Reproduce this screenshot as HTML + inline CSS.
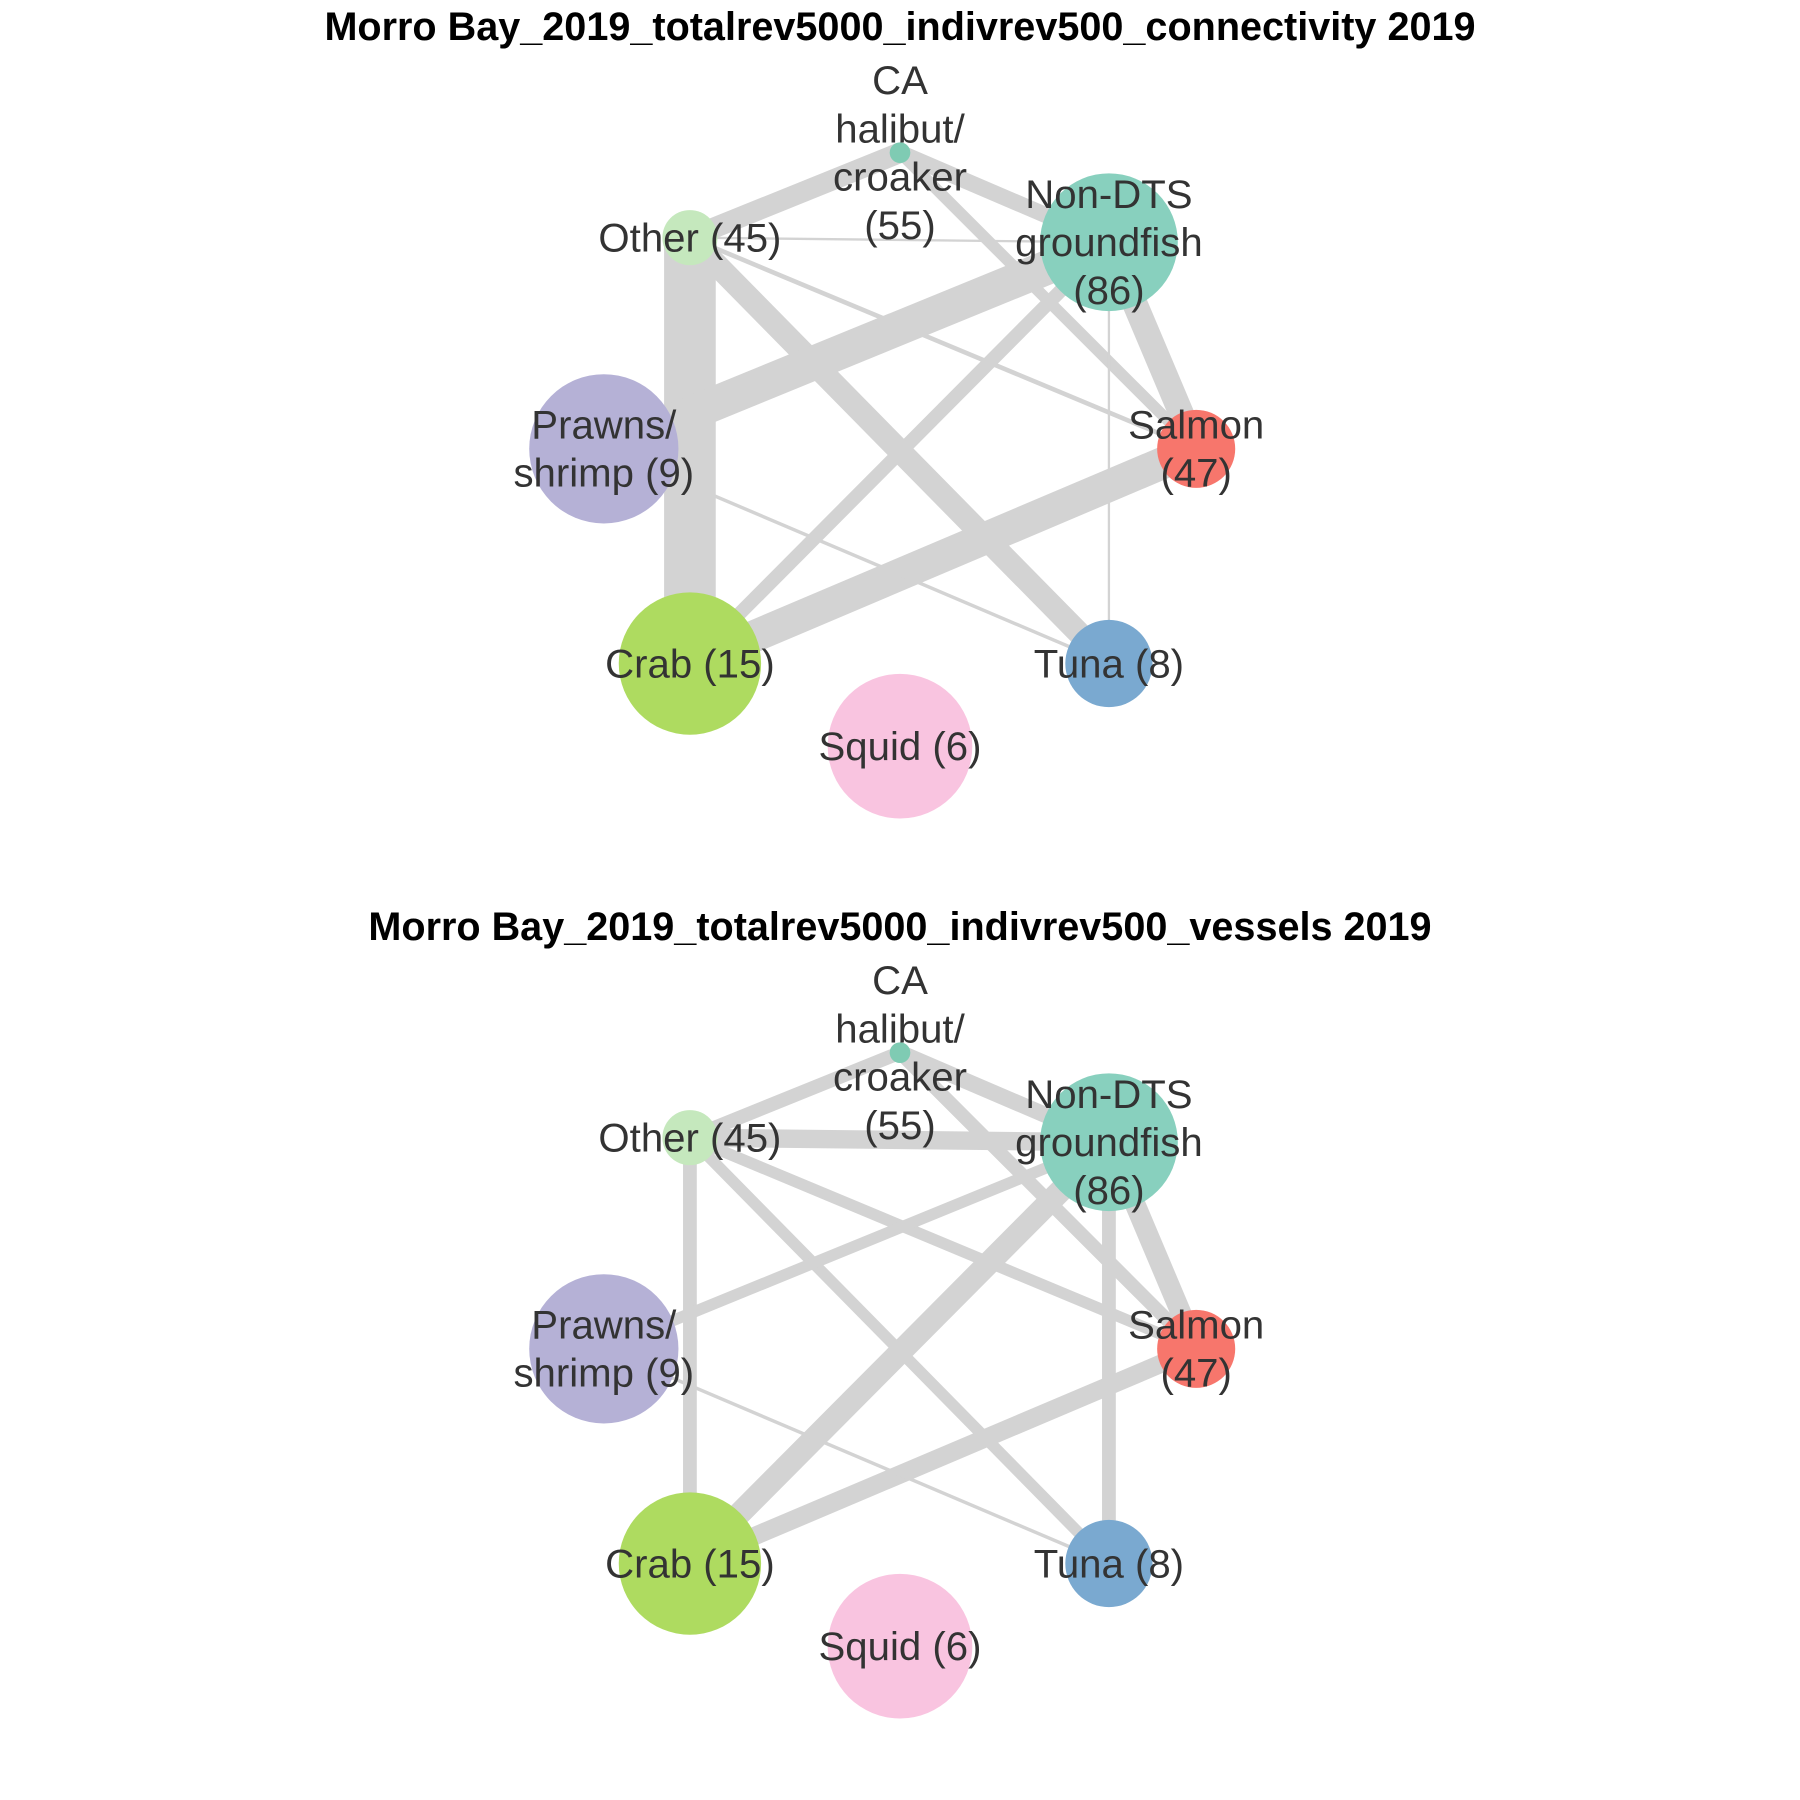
<!DOCTYPE html>
<html><head><meta charset="utf-8"><style>
html,body{margin:0;padding:0;background:#fff;}
svg{display:block;}
text{font-family:"Liberation Sans",Arial,sans-serif;}
</style></head><body>
<svg id="chart" width="1800" height="1800" viewBox="0 0 1568 1568" xmlns="http://www.w3.org/2000/svg">
<rect width="1568" height="1568" fill="#fff"/>
</svg>
<script>
const nodeNames = ["CA halibut/croaker","Other","Non-DTS groundfish","Prawns/shrimp","Salmon","Crab","Tuna","Squid"];
const nodeLabels = [["CA","halibut/","croaker","(55)"],["Other (45)"],["Non-DTS","groundfish","(86)"],["Prawns/","shrimp (9)"],["Salmon","(47)"],["Crab (15)"],["Tuna (8)"],["Squid (6)"]];
const nodeX = [784,601,966,526,1042,601,966,784];
const nodeY = [133,207,211,391,391,578,578,650];
const nodeR = [9,24,60,65,34,62,38,63];
const nodeColors = ["#7fcbb3","#c5e8bd","#88d0be","#b5b1d6","#f7766c","#aedb60","#7aa9d0","#f9c4e0"];
const edgeFrom = [0,0,0,1,1,1,1,2,2,3,2,4,3];
const edgeTo   = [1,2,4,2,4,5,6,4,5,2,6,5,6];
const weightsConnectivity = [18,14,10,2,4,45,20,22,12,30,2,28,3];
const weightsVessels      = [12,14,12,16,10,12,10,18,20,10,12,16,3];
const panelTitles = ["Morro Bay_2019_totalrev5000_indivrev500_connectivity 2019","Morro Bay_2019_totalrev5000_indivrev500_vessels 2019"];
const panelOffsets = [0,784];

const svg = document.getElementById('chart');
const NS = "http://www.w3.org/2000/svg";
function mk(tag, attrs){const e=document.createElementNS(NS,tag);for(const k in attrs)e.setAttribute(k,attrs[k]);return e;}
[weightsConnectivity, weightsVessels].forEach((w,p)=>{
  const off = panelOffsets[p];
  const g = mk('g',{});
  
  
  svg.appendChild(g);
  const t = mk('text',{x:784,y:off+35,'text-anchor':'middle','font-size':34.5,'font-weight':'bold',fill:'#000'});
  t.textContent = panelTitles[p];
  
  
  g.appendChild(t);
  edgeFrom.forEach((a,i)=>{
    const b = edgeTo[i];
    const l = mk('line',{x1:nodeX[a],y1:nodeY[a]+off,x2:nodeX[b],y2:nodeY[b]+off,stroke:'#d3d3d3','stroke-width':w[i]});
    
    
    g.appendChild(l);
  });
  nodeNames.forEach((n,i)=>{
    const c = mk('circle',{cx:nodeX[i],cy:nodeY[i]+off,r:nodeR[i],fill:nodeColors[i]});
    
    
    g.appendChild(c);
  });
  nodeNames.forEach((n,i)=>{
    const lines = nodeLabels[i];
    const lh = 42;
    const y0 = nodeY[i]+off - (lines.length-1)*lh/2 + 12;
    lines.forEach((s,k)=>{
      const tx = mk('text',{x:nodeX[i],y:y0+k*lh,'text-anchor':'middle','font-size':35,fill:'#333'});
      tx.textContent = s;
      
      
      g.appendChild(tx);
    });
  });
});
</script>
</body></html>
